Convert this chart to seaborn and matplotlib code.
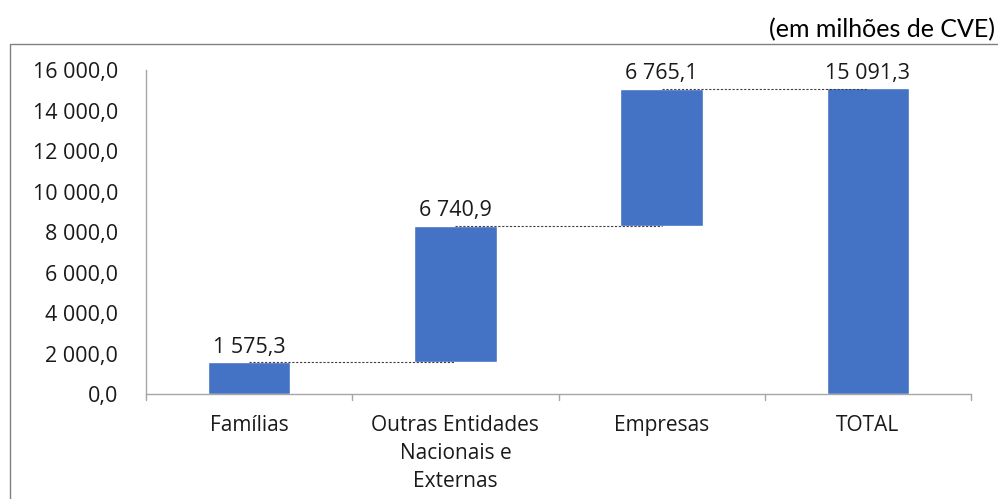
import matplotlib
matplotlib.use("Agg")
import matplotlib.pyplot as plt
from matplotlib.patches import Rectangle
import numpy as np
import pandas as pd
import seaborn as sns

sns.set_style("white")
plt.rcParams['font.family'] = ['Open Sans', 'DejaVu Sans']

# data
categories = ["Famílias", "Outras Entidades\nNacionais e\nExternas", "Empresas", "TOTAL"]
values = [1575.3, 6740.9, 6765.1, 15091.3]
bottoms = [0.0, 1575.3, 8316.2, 0.0]
yticks = [0, 2000, 4000, 6000, 8000, 10000, 12000, 14000, 16000]
unit_label = "(em milhões de CVE)"

df = pd.DataFrame({"cat": categories, "val": values, "bottom": bottoms})

def fmt(v):
    return f"{v:,.1f}".replace(",", " ").replace(".", ",")

fig = plt.figure(figsize=(9.98, 4.99), dpi=100)
ax = fig.add_axes([0.1463, 0.2104, 0.8267, 0.6493])

sns.barplot(data=df, x="cat", y="val", bottom=df["bottom"], color="#4472C4",
            saturation=1, width=0.4, errorbar=None, ax=ax)

# connector lines between bars
tops = df["bottom"] + df["val"]
for i in range(len(df) - 1):
    ax.plot([i, i + 1], [tops[i], tops[i]], color="#404040", lw=0.8,
            ls=(0, (2, 1.5)), zorder=3)

# value labels
for i, (b, v) in enumerate(zip(df["bottom"], df["val"])):
    ax.annotate(fmt(v), (i, b + v), xytext=(0, 3), textcoords="offset points",
                ha="center", va="bottom", fontsize=15.5, color="#1a1a1a")

ax.set_ylim(0, 16000)
ax.set_xlim(-0.5, 3.5)
ax.set_yticks(yticks)
ax.set_yticklabels([fmt(t) for t in yticks], fontsize=15.5, color="#1a1a1a")
ax.set_xlabel("")
ax.set_ylabel("")
ax.tick_params(axis="x", labelsize=15, labelcolor="#1a1a1a", length=0, pad=15)
for lbl in ax.get_xticklabels():
    lbl.set_linespacing(1.45)
    lbl.set_verticalalignment("top")
ax.tick_params(axis="y", length=9, width=1, color="#a6a6a6", direction="out", pad=11)

# category boundary ticks
for xb in np.arange(-0.5, 4.0, 1.0):
    ax.plot([xb, xb], [0, -0.02], transform=ax.get_xaxis_transform(),
            color="#a6a6a6", lw=1, clip_on=False)

for s in ["top", "right"]:
    ax.spines[s].set_visible(False)
for s in ["left", "bottom"]:
    ax.spines[s].set_color("#a6a6a6")
    ax.spines[s].set_linewidth(1)

# outer frame
fig.patches.append(Rectangle((10 / 998, -0.2), 1.2, 0.2 + 0.9118, transform=fig.transFigure,
                             fill=False, edgecolor="#808080", lw=1))

fig.text(0.997, 0.94, unit_label, ha="right", va="center", fontsize=18, color="#000000",
         family=['Lato', 'DejaVu Sans'])

fig.savefig("out.png", dpi=100)
